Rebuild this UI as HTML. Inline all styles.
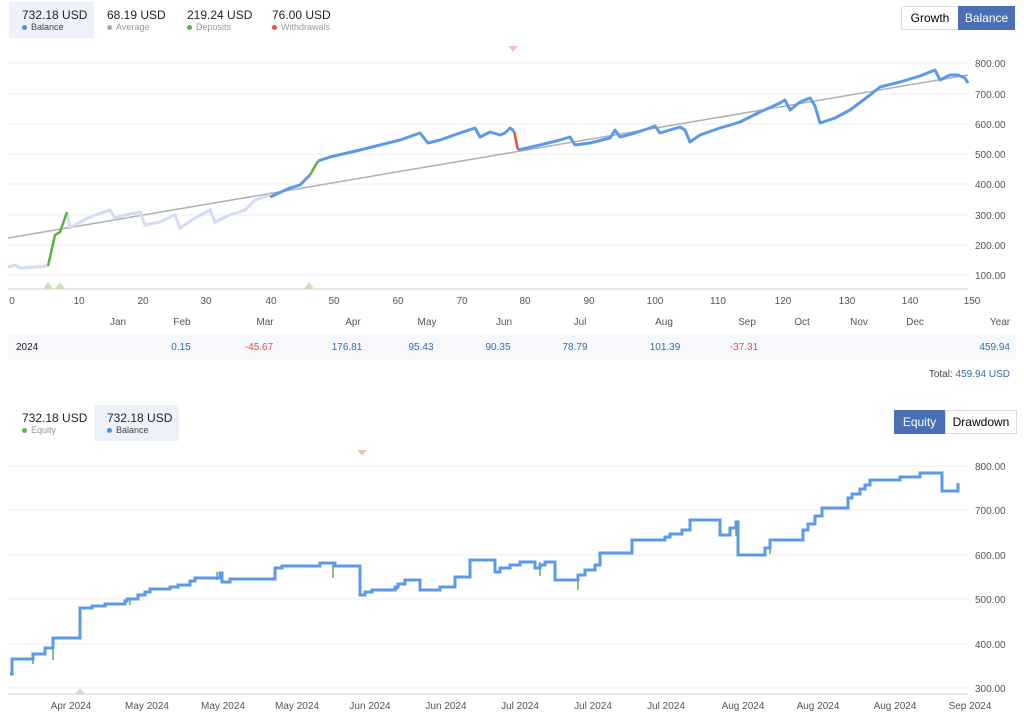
<!DOCTYPE html>
<html><head><meta charset="utf-8"><style>
body{margin:0;width:1024px;height:716px;background:#fff;font-family:"Liberation Sans",sans-serif;position:relative;overflow:hidden}
.a{position:absolute}
.v{font-size:12px;color:#222}
.l{font-size:9px;color:#999}
.dot{display:inline-block;width:5px;height:5px;border-radius:50%;margin-right:4px;vertical-align:middle}
svg text{font-family:"Liberation Sans",sans-serif;font-size:10px;fill:#555}
</style></head><body>
<div class="a" style="left:9px;top:2px;width:85px;height:36px;background:#edf2fa"></div>
<div class="a" style="left:22px;top:8px"><div class="v">732.18 USD</div><div class="l" style="color:#444"><span class="dot" style="background:#4a90e2"></span>Balance</div></div>
<div class="a" style="left:107px;top:8px"><div class="v">68.19 USD</div><div class="l"><span class="dot" style="background:#aaa"></span>Average</div></div>
<div class="a" style="left:187px;top:8px"><div class="v">219.24 USD</div><div class="l"><span class="dot" style="background:#5bb042"></span>Deposits</div></div>
<div class="a" style="left:272px;top:8px"><div class="v">76.00 USD</div><div class="l"><span class="dot" style="background:#e4553a"></span>Withdrawals</div></div>
<div class="a" style="left:901px;top:6px;width:56px;height:22px;border:1px solid #ddd;font-size:12px;line-height:22px;text-align:center">Growth</div>
<div class="a" style="left:958px;top:6px;width:57px;height:24px;background:#4a6fb5;color:#fff;font-size:12px;line-height:24px;text-align:center">Balance</div>

<svg class="a" style="left:0;top:0" width="1024" height="716">
<g stroke="#eee" stroke-width="1">
<line x1="8" y1="63" x2="968" y2="63"/><line x1="8" y1="94" x2="968" y2="94"/><line x1="8" y1="124" x2="968" y2="124"/><line x1="8" y1="154" x2="968" y2="154"/><line x1="8" y1="184" x2="968" y2="184"/><line x1="8" y1="215" x2="968" y2="215"/><line x1="8" y1="245" x2="968" y2="245"/><line x1="8" y1="275" x2="968" y2="275"/>
<line x1="8" y1="289" x2="968" y2="289" stroke="#e8e8e8" stroke-width="2"/>
</g>
<g text-anchor="start">
<text x="975" y="67">800.00</text><text x="975" y="98">700.00</text><text x="975" y="128">600.00</text><text x="975" y="158">500.00</text><text x="975" y="188">400.00</text><text x="975" y="219">300.00</text><text x="975" y="249">200.00</text><text x="975" y="279">100.00</text>
</g>
<polygon points="508,46 518,46 513,52" fill="#f6c1b5"/>
<polygon points="43,289 48,282 53,289" fill="#c9e2bd"/><polygon points="55,289 60,282 65,289" fill="#c9e2bd"/><polygon points="304,289 309,282 314,289" fill="#c9e2bd"/>
<g text-anchor="middle">
<text x="12" y="304">0</text><text x="79" y="304">10</text><text x="143" y="304">20</text><text x="206" y="304">30</text><text x="271" y="304">40</text><text x="334" y="304">50</text><text x="398" y="304">60</text><text x="462" y="304">70</text><text x="525" y="304">80</text><text x="589" y="304">90</text><text x="655" y="304">100</text><text x="718" y="304">110</text><text x="783" y="304">120</text><text x="847" y="304">130</text><text x="910" y="304">140</text><text x="972" y="304">150</text>
<text x="118" y="325" font-size="9">Jan</text><text x="182" y="325" font-size="9">Feb</text><text x="265" y="325" font-size="9">Mar</text><text x="353" y="325" font-size="9">Apr</text><text x="427" y="325" font-size="9">May</text><text x="504" y="325" font-size="9">Jun</text><text x="580" y="325" font-size="9">Jul</text><text x="664" y="325" font-size="9">Aug</text><text x="747" y="325" font-size="9">Sep</text><text x="802" y="325" font-size="9">Oct</text><text x="859" y="325" font-size="9">Nov</text><text x="915" y="325" font-size="9">Dec</text><text x="1000" y="325" font-size="9">Year</text>
</g>
<line x1="8" y1="238" x2="968" y2="75" stroke="#b0b0b0" stroke-width="1.5"/>
<polyline fill="none" stroke="#d3dcf5" stroke-width="3" points="8,267 15,265 20,268 48,266"/>
<polyline fill="none" stroke="#d3dcf5" stroke-width="3" points="67,212 70,228 80,222 95,215 110,210 115,218 125,215 140,212 145,225 160,222 175,215 180,228 195,218 210,210 215,222 230,215 245,210 255,200 270,195"/>
<polyline fill="none" stroke="#5bb042" stroke-width="2.5" points="48,266 55,235 60,232 67,212"/>
<polyline fill="none" stroke="#5a9ae6" stroke-width="3" stroke-linejoin="round" points="270,197 290,188 300,185 310,175"/>
<polyline fill="none" stroke="#5bb042" stroke-width="2.5" points="310,175 318,161"/>
<polyline fill="none" stroke="#5a9ae6" stroke-width="3" stroke-linejoin="round" points="318,161 330,157 360,150 380,145 400,140 420,133 428,143 440,140 460,133 475,128 480,137 490,132 500,135 505,133 510,128 514,131"/>
<polyline fill="none" stroke="#e4553a" stroke-width="2.5" points="514,131 518,150"/>
<polyline fill="none" stroke="#5a9ae6" stroke-width="3" stroke-linejoin="round" points="518,150 540,145 560,140 570,137 575,145 590,143 610,138 615,130 620,137 635,133 650,128 655,126 660,133 670,130 680,127 685,130 690,142 700,135 720,128 740,122 760,112 780,103 785,100 790,110 800,102 810,98 815,106 820,123 835,118 850,110 870,95 880,87 900,82 920,76 935,70 940,80 950,75 958,75 965,78 968,83"/>

<rect x="8" y="334" width="1008" height="26" fill="#f6f8fc"/>
<g font-size="10">
<text x="16" y="350" style="fill:#222">2024</text>
<g text-anchor="middle">
<text x="181" y="350" style="fill:#2f6fad">0.15</text><text x="259" y="350" style="fill:#d9534f">-45.67</text><text x="347" y="350" style="fill:#2f6fad">176.81</text><text x="421" y="350" style="fill:#2f6fad">95.43</text><text x="498" y="350" style="fill:#2f6fad">90.35</text><text x="575" y="350" style="fill:#2f6fad">78.79</text><text x="665" y="350" style="fill:#2f6fad">101.39</text><text x="744" y="350" style="fill:#d9534f">-37.31</text>
</g>
<text x="1010" y="350" text-anchor="end" style="fill:#2f6fad">459.94</text>
<text x="1010" y="377" text-anchor="end"><tspan style="fill:#444">Total: </tspan><tspan style="fill:#2f6fad">459.94 USD</tspan></text>
</g>

<g stroke="#eee" stroke-width="1">
<line x1="8" y1="466" x2="968" y2="466"/><line x1="8" y1="510" x2="968" y2="510"/><line x1="8" y1="555" x2="968" y2="555"/><line x1="8" y1="599" x2="968" y2="599"/><line x1="8" y1="644" x2="968" y2="644"/><line x1="8" y1="688" x2="968" y2="688"/>
<line x1="8" y1="694" x2="968" y2="694" stroke="#e8e8e8" stroke-width="2"/>
</g>
<g><text x="975" y="470">800.00</text><text x="975" y="514">700.00</text><text x="975" y="559">600.00</text><text x="975" y="603">500.00</text><text x="975" y="648">400.00</text><text x="975" y="692">300.00</text></g>
<polygon points="357,450 367,450 362,456" fill="#f6c1b5"/>
<polygon points="75,694 80,688 85,694" fill="#c9e2bd"/>
<g text-anchor="middle">
<text x="71" y="709">Apr 2024</text><text x="147" y="709">May 2024</text><text x="223" y="709">May 2024</text><text x="297" y="709">May 2024</text><text x="370" y="709">Jun 2024</text><text x="446" y="709">Jun 2024</text><text x="520" y="709">Jul 2024</text><text x="593" y="709">Jul 2024</text><text x="666" y="709">Jul 2024</text><text x="743" y="709">Aug 2024</text><text x="818" y="709">Aug 2024</text><text x="895" y="709">Aug 2024</text><text x="970" y="709">Sep 2024</text>
</g>
<g stroke="#5bb042" stroke-width="1.5">
<line x1="33" y1="659" x2="33" y2="664"/><line x1="53" y1="648" x2="53" y2="660"/><line x1="130" y1="600" x2="130" y2="605"/><line x1="217" y1="572" x2="217" y2="580"/><line x1="333" y1="564" x2="333" y2="578"/><line x1="397" y1="586" x2="397" y2="590"/><line x1="540" y1="562" x2="540" y2="576"/><line x1="578" y1="578" x2="578" y2="590"/><line x1="736" y1="522" x2="736" y2="536"/><line x1="770" y1="546" x2="770" y2="554"/>
</g>
<polyline fill="none" stroke="#5a9ae6" stroke-width="3" points="10,674 12,674 12,659 33,659 33,654 45,654 45,648 53,648 53,638 80,638 80,608 92,608 92,606 105,606 105,604 125,604 125,601 127,601 127,599 138,599 138,595 145,595 145,592 150,592 150,589 170,589 170,587 178,587 178,585 190,585 190,581 195,581 195,578 220,578 220,573 222,573 222,582 230,582 230,579 275,579 275,568 282,568 282,566 320,566 320,563 335,563 335,566 360,566 360,595 365,595 365,592 372,592 372,590 395,590 395,587 398,587 398,584 405,584 405,580 420,580 420,590 440,590 440,587 455,587 455,577 470,577 470,560 495,560 495,572 500,572 500,568 510,568 510,565 520,565 520,562 535,562 535,568 540,568 540,565 545,565 545,562 555,562 555,580 578,580 578,575 585,575 585,570 595,570 595,565 600,565 600,553 632,553 632,540 665,540 665,537 670,537 670,534 682,534 682,530 690,530 690,520 720,520 720,535 730,535 730,528 736,528 736,522 738,522 738,555 765,555 765,548 770,548 770,540 803,540 803,530 808,530 808,524 815,524 815,516 822,516 822,508 848,508 848,498 852,498 852,494 860,494 860,489 865,489 865,485 870,485 870,480 900,480 900,477 920,477 920,473 942,473 942,491 958,491 958,483"/>
</svg>

<div class="a" style="left:94px;top:405px;width:85px;height:36px;background:#edf2fa"></div>
<div class="a" style="left:22px;top:411px"><div class="v">732.18 USD</div><div class="l"><span class="dot" style="background:#5bb042"></span>Equity</div></div>
<div class="a" style="left:107px;top:411px"><div class="v">732.18 USD</div><div class="l" style="color:#444"><span class="dot" style="background:#4a90e2"></span>Balance</div></div>
<div class="a" style="left:894px;top:410px;width:51px;height:24px;background:#4a6fb5;color:#fff;font-size:12px;line-height:24px;text-align:center">Equity</div>
<div class="a" style="left:945px;top:410px;width:70px;height:22px;border:1px solid #ddd;font-size:12px;line-height:22px;text-align:center">Drawdown</div>
</body></html>
